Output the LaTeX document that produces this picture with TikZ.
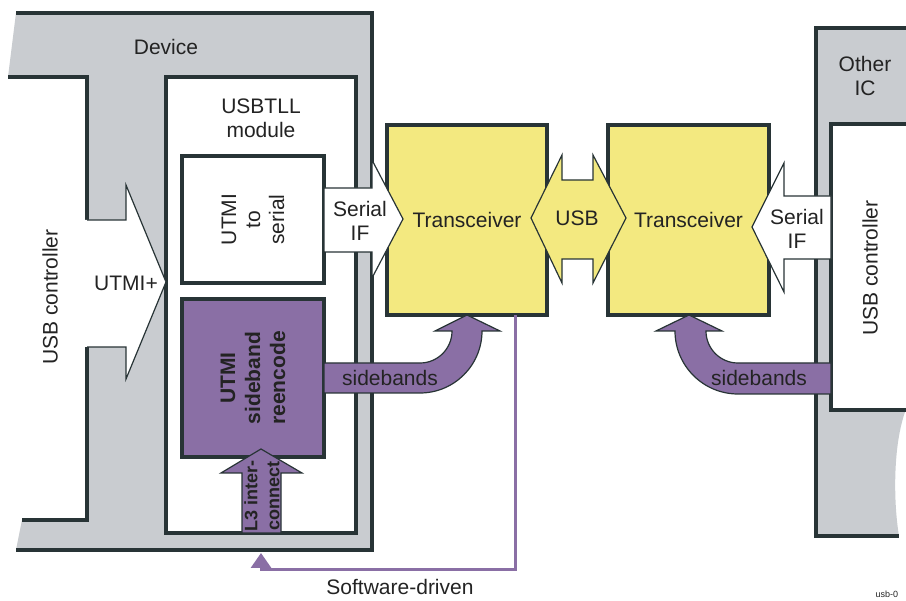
\documentclass[tikz,border=0pt]{standalone}
\usepackage{fontspec}
\setmainfont{Liberation Sans}
\usepackage{tikz}
\usetikzlibrary{arrows.meta}

\definecolor{devgray}{RGB}{201,204,208}
\definecolor{dark}{RGB}{40,52,54}
\definecolor{ink}{RGB}{35,35,35}
\definecolor{trxyellow}{RGB}{243,233,128}
\definecolor{sbpurple}{RGB}{138,111,165}

\begin{document}
\begin{tikzpicture}[
  x=1pt, y=-1pt,
  wall/.style={draw=dark, line width=4pt},
  box/.style={draw=dark, line width=3.5pt, inner sep=0pt, outer sep=0pt},
  lbl/.style={font=\fontsize{21}{24}\selectfont, text=ink, align=center},
  lblb/.style={font=\fontsize{21}{25}\selectfont\bfseries, text=ink, align=center},
  blk/.style={draw=dark, line width=1.2pt},
  swline/.style={-{Triangle[width=20pt,length=15pt]}, draw=sbpurple, line width=3pt}
]
\useasboundingbox (0,0) rectangle (906,601);
% Device
\fill[devgray] (16,13) -- (372,13) -- (372,550) -- (16,550) -- (22,520) -- (87,520) -- (87,77) -- (8,77) -- cycle;
\draw[wall] (16,13) -- (372,13) -- (372,550) -- (16,550);
\draw[wall] (8,77) -- (87,77) -- (87,220);
\draw[wall] (87,347) -- (87,520) -- (22,520);
\node[lbl] (dev) at (166,47) {Device};
\node[lbl, rotate=90] (ctrlL) at (50,297) {USB controller};
% Other IC
\fill[devgray] (816,28) -- (915,28) -- (915,405) -- (907,407) .. controls (893,440) and (893,500) .. (899,536) -- (816,536) -- cycle;
\draw[wall] (915,28) -- (816,28) -- (816,536) -- (899,536);
\node[lbl] (oic) at (865,76) {Other\\IC};
\node[box, fill=white, minimum width=100pt, minimum height=286pt] (ctrlR) at (881,267) {};
\node[lbl, rotate=90] (ctrlRtxt) at (870,268) {USB controller};
% USBTLL module
\node[box, fill=white, minimum width=190pt, minimum height=456pt] (tll) at (261,305) {};
\node[lbl] (tlltxt) at (261,118) {USBTLL\\module};
\node[box, fill=white, lbl, rotate=90, minimum width=127pt, minimum height=142pt] (u2s) at (253,219.5) {UTMI\\to\\serial};
\node[box, fill=sbpurple, lblb, rotate=90, minimum width=158pt, minimum height=142pt] (reenc) at (253,378) {UTMI\\sideband\\reencode};
% transceivers
\node[box, fill=trxyellow, lbl, minimum width=160pt, minimum height=190pt] (trxL) at (467,220) {Transceiver};
\node[box, fill=trxyellow, lbl, minimum width=161pt, minimum height=190pt] (trxR) at (688.5,220) {Transceiver};
% block arrows
\fill[white] (84,220) -- (126,220) -- (126,185) -- (166,282) -- (126,379) -- (126,347) -- (84,347) -- cycle;
\draw[blk] (87,220) -- (126,220) -- (126,185) -- (166,282) -- (126,379) -- (126,347) -- (87,347);
\node[lbl] (utmip) at (126,283) {UTMI+};
\path[blk, fill=white] (324,188) -- (372,188) -- (372,160) -- (403,219) -- (372,278) -- (372,252) -- (324,252) -- cycle;
\node[lbl] (serL) at (360,221) {Serial\\IF};
\path[blk, fill=trxyellow] (531,218) -- (562,155) -- (562,180) -- (593,180) -- (593,155) -- (626,218) -- (593,283) -- (593,259) -- (562,259) -- (562,283) -- cycle;
\node[lbl] (usb) at (577,218) {USB};
\path[blk, fill=white] (831,196) -- (784,196) -- (784,163) -- (752,227) -- (784,292) -- (784,259) -- (831,259) -- cycle;
\node[lbl] (serR) at (797,229) {Serial\\IF};
% sidebands
\path[blk, fill=sbpurple] (324,363) -- (420,363) .. controls (437.7,363) and (452,348.7) .. (452,331)
  -- (435,331) -- (467,315) -- (500,331) -- (482,331) .. controls (482,365.2) and (454.2,393) .. (420,393) -- (324,393) -- cycle;
\node[lbl] (sbL) at (390,378) {sidebands};
\path[blk, fill=sbpurple] (831,363) -- (738,363) .. controls (720.3,363) and (706,348.7) .. (706,331)
  -- (722,331) -- (689,315) -- (656,331) -- (675,331) .. controls (675,365.8) and (703.2,394) .. (738,394) -- (831,394) -- cycle;
\node[lbl] (sbR) at (759,378) {sidebands};
% L3 interconnect
\path[blk, fill=sbpurple] (242,533) -- (242,473) -- (221,473) -- (261,449) -- (302,473) -- (281,473) -- (281,533) -- cycle;
\node[font=\fontsize{18}{22}\selectfont\bfseries, text=ink, align=center, rotate=90] (l3) at (262,496) {L3 inter-\\connect};
% software path
\coordinate (swtap) at (515,315);
\coordinate (swcorner) at (261,570);
\coordinate (swend) at (261,553);
\draw[swline] (swtap) |- (swcorner) -- (swend);
\node[lbl] (sw) at (400,587) {Software-driven};
\node[font=\fontsize{9}{10}\selectfont, text=ink, anchor=base west] (figid) at (872,598) {usb-0};
\end{tikzpicture}
\end{document}
